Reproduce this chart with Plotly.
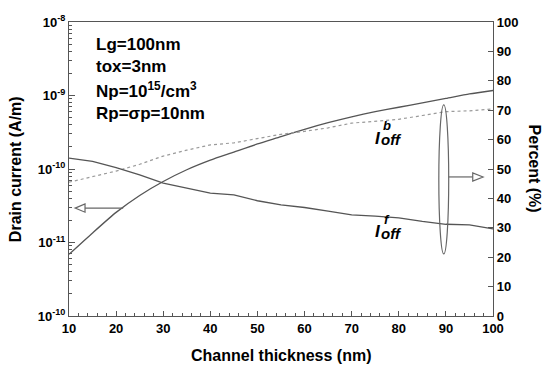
import plotly.graph_objects as go

# Channel thickness (nm)
thickness = [10, 15, 20, 25, 30, 35, 40, 45, 50, 55, 60, 65, 70, 75, 80, 85, 90, 95, 100]
# Total off-state drain current (A/m), left log axis
drain_current = [6.9e-12, 1.35e-11, 2.57e-11, 4.37e-11, 6.76e-11, 9.77e-11, 1.32e-10, 1.70e-10,
                 2.19e-10, 2.75e-10, 3.47e-10, 4.27e-10, 5.13e-10, 6.03e-10, 6.92e-10, 7.94e-10,
                 9.12e-10, 1.05e-9, 1.17e-9]
# Percent contributions (right axis)
pct_back = [45.5, 47.3, 49.3, 51.6, 54.4, 56.4, 58.2, 58.9, 60.3, 61.8, 62.8, 64.0, 65.6,
            66.3, 66.9, 68.2, 69.5, 69.8, 70.4]
pct_front = [53.7, 52.6, 50.5, 48.0, 45.2, 43.4, 41.8, 41.2, 39.2, 37.8, 36.9, 35.7, 34.4,
             34.0, 33.4, 32.2, 31.2, 31.0, 29.6]

left_tickvals = [1e-12, 1e-11, 1e-10, 1e-9, 1e-8]
left_ticktext = ["10<sup>-10</sup>", "10<sup>-11</sup>", "10<sup>-10</sup>", "10<sup>-9</sup>", "10<sup>-8</sup>"]
x_ticks = [10, 20, 30, 40, 50, 60, 70, 80, 90, 100]
right_ticks = [0, 10, 20, 30, 40, 50, 60, 70, 80, 90, 100]

FONT = "Liberation Sans, Arial, sans-serif"
AX = "#555555"

fig = go.Figure()
fig.add_trace(go.Scatter(x=thickness, y=drain_current, mode="lines",
                         line=dict(color="#555555", width=1.3, shape="spline", smoothing=0.6),
                         yaxis="y", showlegend=False))
fig.add_trace(go.Scatter(x=thickness, y=pct_back, mode="lines",
                         line=dict(color="#9a9a9a", width=1.2, dash="dot"), yaxis="y2", showlegend=False))
fig.add_trace(go.Scatter(x=thickness, y=pct_front, mode="lines",
                         line=dict(color="#555555", width=1.3), yaxis="y2", showlegend=False))

minor_log = [m * 10 ** e for e in range(-12, -8) for m in range(2, 10)]

fig.update_layout(
    width=545, height=367,
    margin=dict(l=69, r=52, t=22, b=51),
    paper_bgcolor="white", plot_bgcolor="white",
    font=dict(family=FONT, color="black"),
    xaxis=dict(range=[10, 100], tickvals=x_ticks, ticks="inside", ticklen=5, tickcolor=AX,
               showline=True, linecolor=AX, linewidth=1.2, mirror=True, showgrid=False, zeroline=False,
               tickfont=dict(size=13, weight="bold"),
               minor=dict(dtick=2, ticks="inside", ticklen=3, tickcolor=AX, showgrid=False)),
    yaxis=dict(type="log", range=[-12, -8], tickvals=left_tickvals, ticktext=left_ticktext,
               ticks="inside", ticklen=6, tickcolor=AX, showline=True, linecolor=AX, linewidth=1.2,
               showgrid=False, zeroline=False, tickfont=dict(size=13, weight="bold"),
               minor=dict(tickvals=minor_log, ticks="inside", ticklen=3, tickcolor=AX, showgrid=False)),
    yaxis2=dict(overlaying="y", side="right", range=[0, 100], tickvals=right_ticks,
                ticks="inside", ticklen=5, tickcolor=AX, showline=True, linecolor=AX, linewidth=1.2,
                showgrid=False, zeroline=False, tickfont=dict(size=13, weight="bold")),
)

# Axis titles
fig.add_annotation(text="Channel thickness (nm)", xref="paper", yref="paper", x=0.5, y=-0.133,
                   showarrow=False, font=dict(size=16, weight="bold"),
                   xanchor="center", yanchor="middle")
fig.add_annotation(text="Drain current (A/m)", xref="paper", yref="paper", x=-0.127, y=0.5,
                   textangle=-90, showarrow=False, font=dict(size=16, weight="bold"),
                   xanchor="center", yanchor="middle")
fig.add_annotation(text="Percent (%)", xref="paper", yref="paper", x=1.1, y=0.5,
                   textangle=90, showarrow=False, font=dict(size=16, weight="bold"),
                   xanchor="center", yanchor="middle")

# Parameter text block
params = ["Lg=100nm", "tox=3nm", "Np=10<sup>15</sup>/cm<sup>3</sup>", "Rp=σp=10nm"]
param_y = [92.5, 84.7, 77.0, 69.0]
for t, yv in zip(params, param_y):
    fig.add_annotation(text=t, x=15.4, y=yv, xref="x", yref="y2", showarrow=False,
                       xanchor="left", yanchor="middle", font=dict(size=17, weight="bold"))

# I_off labels
for yv, sup in [(60.5, "b"), (28.6, "f")]:
    fig.add_annotation(text="I", x=75.6, y=yv, xref="x", yref="y2", showarrow=False,
                       xanchor="center", yanchor="middle",
                       font=dict(size=17, weight="bold", style="italic"))
    fig.add_annotation(text="off", x=78.4, y=yv - 0.6, xref="x", yref="y2", showarrow=False,
                       xanchor="center", yanchor="middle",
                       font=dict(size=15, weight="bold", style="italic"))
    fig.add_annotation(text=sup, x=77.5, y=yv + 4.3, xref="x", yref="y2", showarrow=False,
                       xanchor="center", yanchor="middle",
                       font=dict(size=13, weight="bold", style="italic"))

# Ellipse around the percent curves
fig.add_shape(type="circle", xref="x", yref="y2", x0=88.5, x1=90.6, y0=21.1, y1=71.8,
              line=dict(color="#666666", width=1.2))

# Arrows with open triangle heads
fig.add_shape(type="line", xref="x", yref="y2", x0=13.4, x1=21.5, y0=36.7, y1=36.7,
              line=dict(color="#666666", width=1.2))
fig.add_shape(type="path", xref="x", yref="y2", path="M 11.3 36.7 L 13.4 38.1 L 13.4 35.3 Z",
              line=dict(color="#666666", width=1.2), fillcolor="white")
fig.add_shape(type="line", xref="x", yref="y2", x0=90.6, x1=95.7, y0=47.3, y1=47.3,
              line=dict(color="#666666", width=1.2))
fig.add_shape(type="path", xref="x", yref="y2", path="M 97.9 47.3 L 95.7 48.7 L 95.7 45.9 Z",
              line=dict(color="#666666", width=1.2), fillcolor="white")

fig.write_html("out.html")
